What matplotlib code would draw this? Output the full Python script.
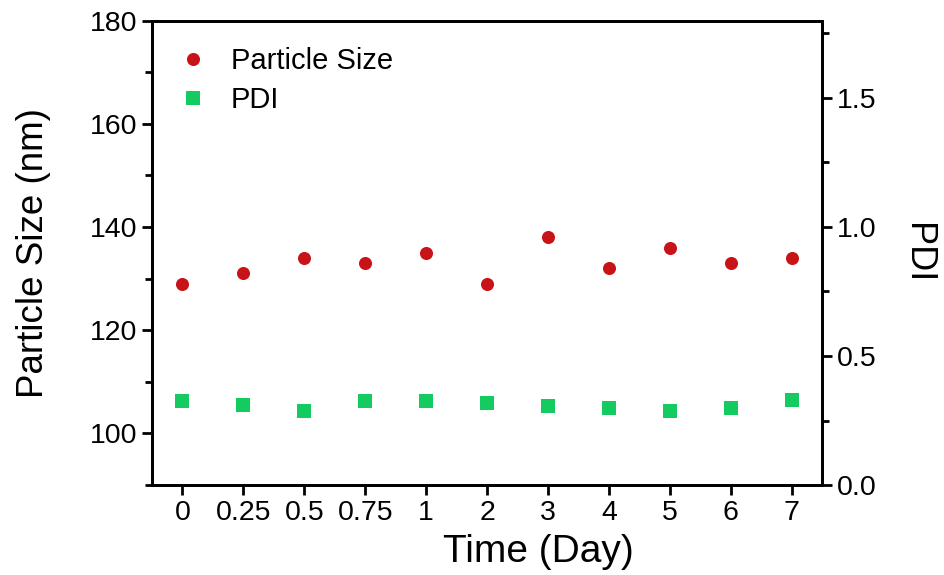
import matplotlib
matplotlib.use("Agg")
import matplotlib.pyplot as plt
from matplotlib.ticker import MultipleLocator, FormatStrFormatter

plt.rcParams['font.family'] = ['Liberation Sans', 'DejaVu Sans']

# data
time_labels = ['0', '0.25', '0.5', '0.75', '1', '2', '3', '4', '5', '6', '7']
particle_size = [129, 131, 134, 133, 135, 129, 138, 132, 136, 133, 134]
pdi = [0.326, 0.310, 0.287, 0.326, 0.326, 0.317, 0.307, 0.300, 0.287, 0.297, 0.331]

red = '#C81418'
green = '#14CB5F'

fig = plt.figure(figsize=(9.44, 5.75), dpi=100)
ax = fig.add_axes([0.161, 0.1565, 0.710, 0.8078])
ax2 = ax.twinx()

x = list(range(len(time_labels)))
h1, = ax.plot(x, particle_size, 'o', color=red, markersize=9.4, markeredgewidth=0,
              label='Particle Size')
h2, = ax2.plot(x, pdi, 's', color=green, markersize=9.4, markeredgewidth=0, label='PDI')

ax.set_xlim(-0.5, 10.5)
ax.set_ylim(90, 180)
ax2.set_ylim(0, 1.8)

ax.set_xticks(x)
ax.set_xticklabels(time_labels)
ax.yaxis.set_major_locator(MultipleLocator(20))
ax.yaxis.set_minor_locator(MultipleLocator(10))
ax2.yaxis.set_major_locator(MultipleLocator(0.5))
ax2.yaxis.set_minor_locator(MultipleLocator(0.25))
ax2.yaxis.set_major_formatter(FormatStrFormatter('%.1f'))

for a in (ax, ax2):
    for s in a.spines.values():
        s.set_linewidth(2.0)
    a.tick_params(which='major', direction='out', length=7, width=2.0,
                  labelsize=20.5, pad=3.5)
    a.tick_params(which='minor', direction='out', length=5, width=2.0)
ax.tick_params(axis='x', which='minor', bottom=False)

ax.set_xlabel('Time (Day)', fontsize=28, labelpad=2)
ax.xaxis.set_label_coords(0.576, -0.105)
ax.set_ylabel('Particle Size (nm)', fontsize=26.5, labelpad=28)
ax2.set_ylabel('PDI', fontsize=26, rotation=270, labelpad=42)

ax.legend(handles=[h1, h2], loc='upper left', frameon=False, fontsize=21,
          handlelength=1.0, handletextpad=0.8, labelspacing=0.38,
          borderaxespad=0.5, borderpad=0.4)

fig.savefig('out.png', dpi=100)
